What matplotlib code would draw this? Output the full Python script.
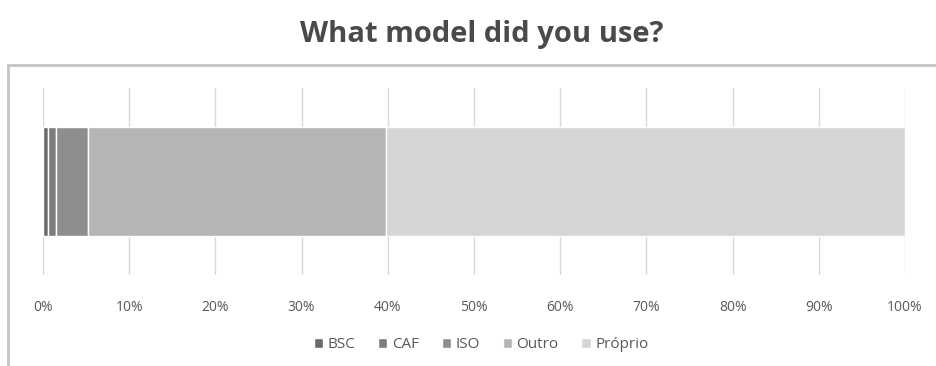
import matplotlib.pyplot as plt
from matplotlib.patches import Rectangle
from matplotlib.ticker import PercentFormatter

# data (share of answers, %)
models = ['BSC', 'CAF', 'ISO', 'Outro', 'Próprio']
shares = [0.6, 0.9, 3.7, 34.6, 60.2]
colors = ['#6a6a6a', '#7c7c7c', '#8e8e8e', '#b5b5b5', '#d5d5d5']
ticks = list(range(0, 101, 10))

plt.rcParams['font.family'] = ['Open Sans', 'DejaVu Sans']

fig = plt.figure(figsize=(9.36, 3.66), dpi=100)

# chart frame (runs off the right and bottom edges)
fig.patches.append(Rectangle((8 / 936, -0.1), 1.2, 1.1 - 65 / 366, transform=fig.transFigure,
                             fill=False, edgecolor='#c4c4c4', linewidth=2.0))

fig.text(482 / 936, 0.905, 'What model did you use?', ha='center', va='center',
         fontsize=21, fontweight='bold', color='#4a4a4a')

ax = fig.add_axes([43 / 936, 1 - 275 / 366, (905 - 43) / 936, (275 - 88) / 366])

left = 0
for name, val, col in zip(models, shares, colors):
    ax.barh(0, val, left=left, height=0.58, color=col, edgecolor='white',
            linewidth=1.0, label=name, zorder=3)
    left += val

ax.set_xlim(0, 100)
ax.set_ylim(-0.5, 0.5)
ax.set_xticks(ticks)
ax.xaxis.set_major_formatter(PercentFormatter(decimals=0))
ax.set_yticks([])
ax.grid(axis='x', color='#d9d9d9', linewidth=1.0, zorder=0)
for s in ax.spines.values():
    s.set_visible(False)
ax.tick_params(axis='x', length=0, pad=18, labelsize=10, labelcolor='#595959')

leg = fig.legend(loc='center', bbox_to_anchor=(481 / 936, 1 - 345 / 366), ncol=5,
                 frameon=False, fontsize=11, handlelength=0.6, handleheight=0.6,
                 handletextpad=0.3, columnspacing=1.5)
for t in leg.get_texts():
    t.set_color('#595959')

plt.savefig('out.png', dpi=100, facecolor='white')
